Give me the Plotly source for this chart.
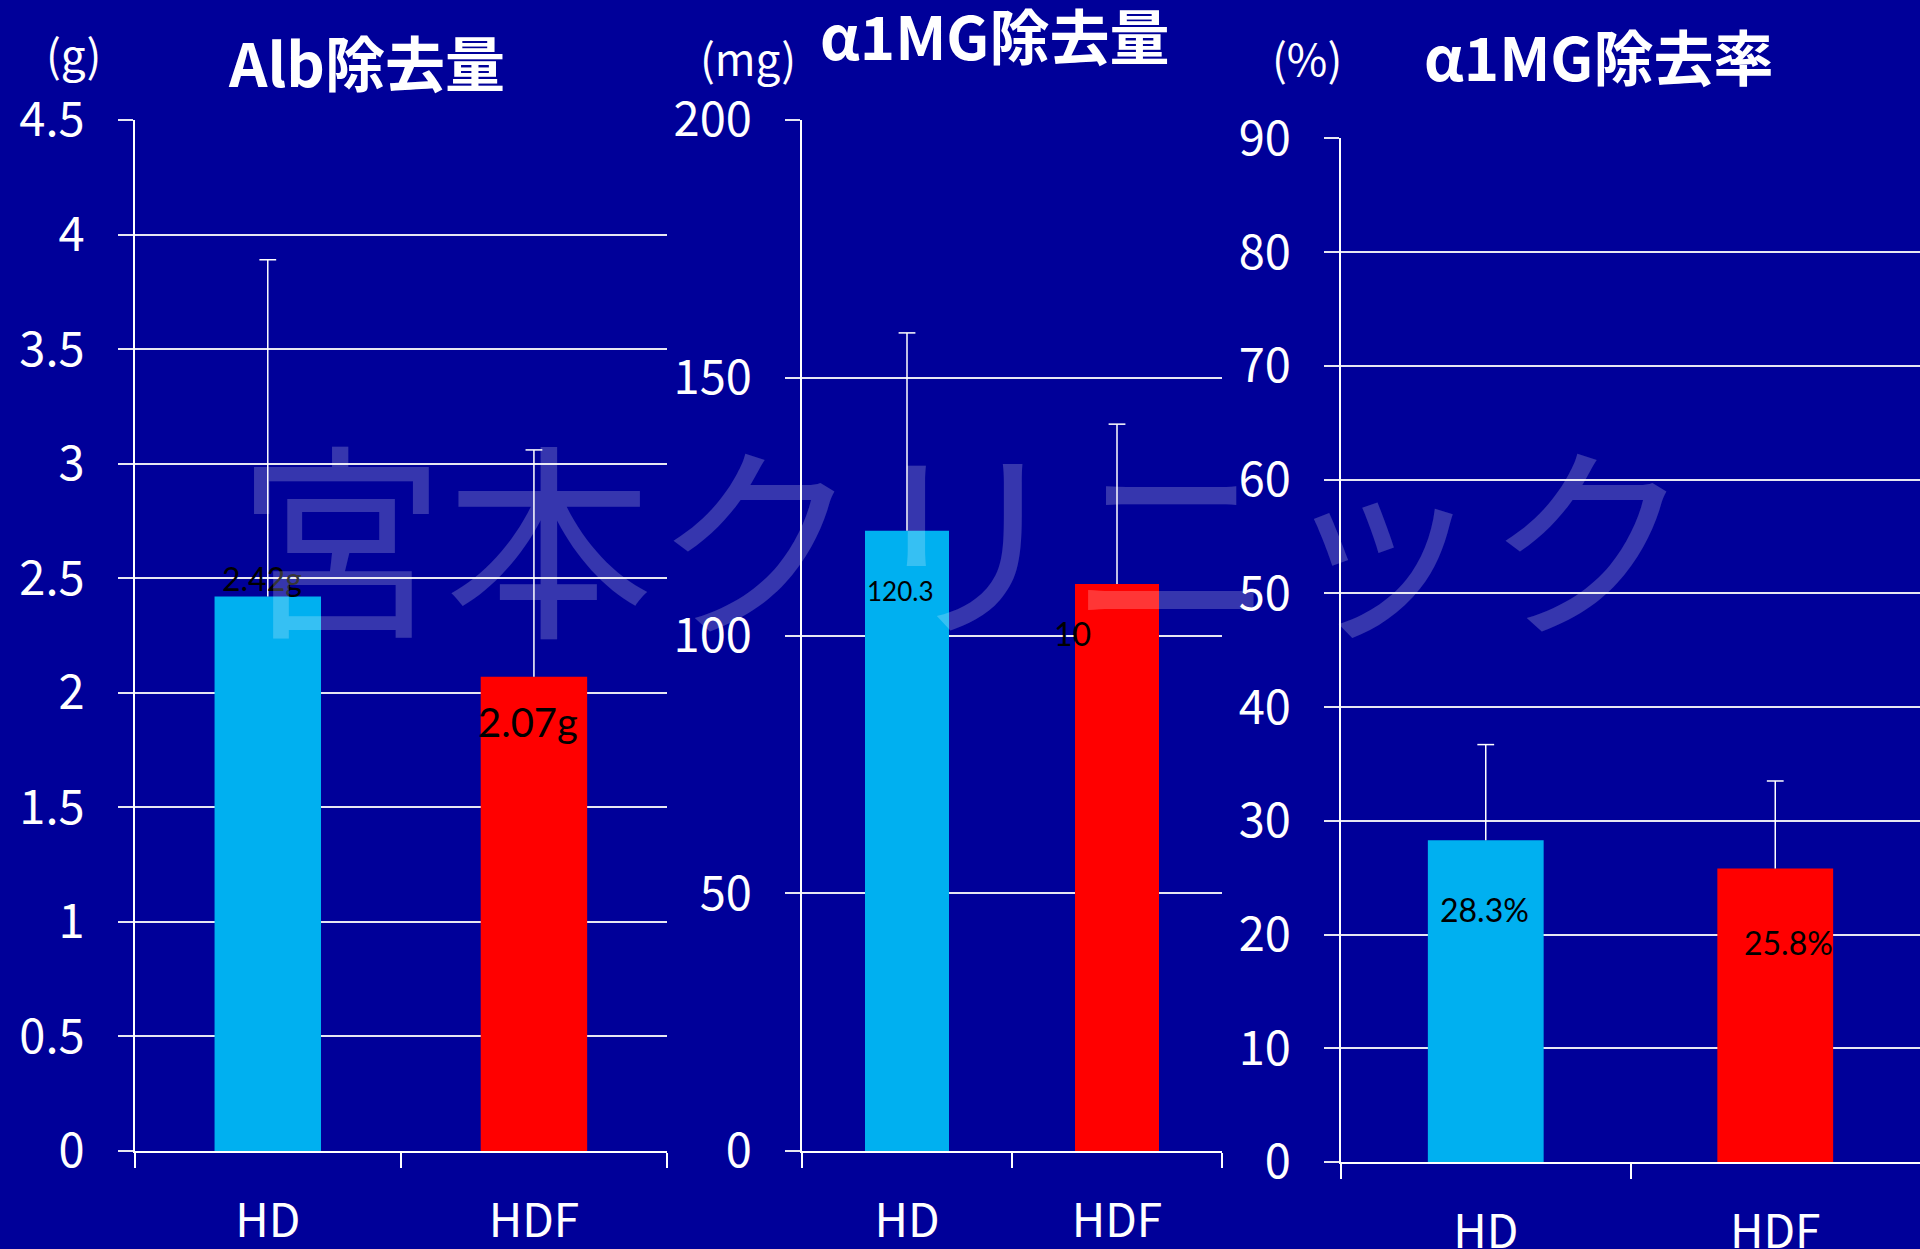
import plotly.graph_objects as go

# --- data -------------------------------------------------------------
categories = ["HD", "HDF"]
bar_colors = ["#00B0F0", "#FF0000"]

alb_removal = [2.42, 2.07]          # g
alb_removal_sd = [1.47, 0.99]
alb_labels = ["2.42g", "2.07g"]

a1mg_removal = [120.3, 110.0]       # mg
a1mg_removal_sd = [38.4, 31.0]
a1mg_labels = ["120.3", "10"]

a1mg_rate = [28.3, 25.8]            # %
a1mg_rate_sd = [8.4, 7.7]
a1mg_rate_labels = ["28.3%", "25.8%"]

panel_titles = ["Alb除去量", "α1MG除去量", "α1MG除去率"]
unit_labels = ["(g)", "(mg)", "(%)"]
y_ranges = [[0, 4.5], [0, 200], [0, 90]]
y_dticks = [0.5, 50, 10]

BG = "#000099"
W, H = 1920, 1249
CJK = "Noto Sans CJK JP"
LABEL_FONT = "Lato"

fig = go.Figure()

series = [
    (alb_removal, alb_removal_sd),
    (a1mg_removal, a1mg_removal_sd),
    (a1mg_rate, a1mg_rate_sd),
]
for i, (vals, sds) in enumerate(series):
    suffix = "" if i == 0 else str(i + 1)
    # bars with a one-sided (upper) error whisker, no end caps
    fig.add_trace(go.Bar(
        x=categories, y=vals,
        marker=dict(color=bar_colors, line=dict(width=0)),
        width=0.4,
        error_y=dict(type="data", array=sds, arrayminus=[0] * len(sds),
                     symmetric=False, color="white", thickness=1.5, width=0),
        xaxis="x" + suffix, yaxis="y" + suffix,
        showlegend=False, hoverinfo="skip",
    ))
    # cap at the upper end of each whisker
    fig.add_trace(go.Scatter(
        x=categories, y=[v + s for v, s in zip(vals, sds)],
        mode="markers",
        marker=dict(symbol="line-ew", size=12, color="white",
                    line=dict(color="white", width=1.5)),
        xaxis="x" + suffix, yaxis="y" + suffix,
        showlegend=False, hoverinfo="skip",
    ))

# pixel layout of the three panels: (x_left, x_right, y_zero, y_top)
panels = [
    (134.7, 667.0, 1151.0, 120.0),
    (802.0, 1222.0, 1151.0, 120.0),
    (1341.0, 1921.0, 1162.0, 138.4),
]

layout = dict(
    width=W, height=H,
    margin=dict(l=0, r=0, t=0, b=0, autoexpand=False),
    paper_bgcolor=BG, plot_bgcolor=BG,
    bargap=0.6,
    showlegend=False,
)

for i, (xl, xr, y0, yt) in enumerate(panels):
    suffix = "" if i == 0 else str(i + 1)
    xd = [xl / W, min(xr / W, 1.0)]
    yd = [1 - y0 / H, 1 - yt / H]
    layout["xaxis" + suffix] = dict(
        domain=xd, anchor="y" + suffix, automargin=False,
        type="category", range=[-0.5, 1.5],
        showline=True, linecolor="white", linewidth=2,
        ticks="outside", tickson="boundaries", ticklen=15,
        tickcolor="white", tickwidth=2,
        showgrid=False, zeroline=False,
        tickfont=dict(family=CJK, size=46, color="white"),
        ticklabelstandoff=29,
        fixedrange=True,
    )
    layout["yaxis" + suffix] = dict(
        domain=yd, anchor="x" + suffix, automargin=False,
        range=y_ranges[i], dtick=y_dticks[i], tick0=0,
        showline=True, linecolor="white", linewidth=1.5,
        showgrid=True, gridcolor="#E6E6F2", gridwidth=2,
        ticks="outside", ticklen=15, tickcolor="#E6E6F2", tickwidth=2,
        zeroline=False,
        tickfont=dict(family=CJK, size=47, color="white"),
        ticklabelstandoff=24,
        fixedrange=True,
    )

annotations = []

# panel headings and unit labels (paper coordinates from pixel positions)
title_pos = [(366, 61), (994, 34), (1598, 55)]
unit_pos = [(73, 53), (748, 57), (1307, 57)]
for (tx, ty), txt in zip(title_pos, panel_titles):
    annotations.append(dict(
        text="<b>" + txt + "</b>", x=tx / W, y=1 - ty / H,
        xref="paper", yref="paper", xanchor="center", yanchor="middle",
        showarrow=False, font=dict(family=CJK, size=60, color="white"),
    ))
for (ux, uy), txt in zip(unit_pos, unit_labels):
    annotations.append(dict(
        text=txt, x=ux / W, y=1 - uy / H,
        xref="paper", yref="paper", xanchor="center", yanchor="middle",
        showarrow=False, font=dict(family=CJK, size=44, color="white"),
    ))

# value labels on the bars
value_labels = [
    ("", alb_removal, alb_labels, [(-6, 18, 32), (-6, -45, 40)]),
    ("2", a1mg_removal, a1mg_labels, [(-7, -60, 26), (-45, -50, 32)]),
    ("3", a1mg_rate, a1mg_rate_labels, [(-1, -69, 32), (13, -74, 32)]),
]
for suffix, vals, labels, offsets in value_labels:
    for cat, v, lab, (dx, dy, fs) in zip(categories, vals, labels, offsets):
        annotations.append(dict(
            text=lab, x=cat, y=v, xref="x" + suffix, yref="y" + suffix,
            xshift=dx, yshift=dy, xanchor="center", yanchor="middle",
            showarrow=False, font=dict(family=LABEL_FONT, size=fs, color="black"),
        ))

# translucent clinic name across the whole chart
annotations.append(dict(
    text="宮本クリニック", x=965 / W, y=1 - 531 / H,
    xref="paper", yref="paper", xanchor="center", yanchor="middle",
    showarrow=False,
    font=dict(family=CJK, size=208, color="rgba(255,255,255,0.21)"),
))

layout["annotations"] = annotations
fig.update_layout(**layout)

fig.write_html("out.html")
